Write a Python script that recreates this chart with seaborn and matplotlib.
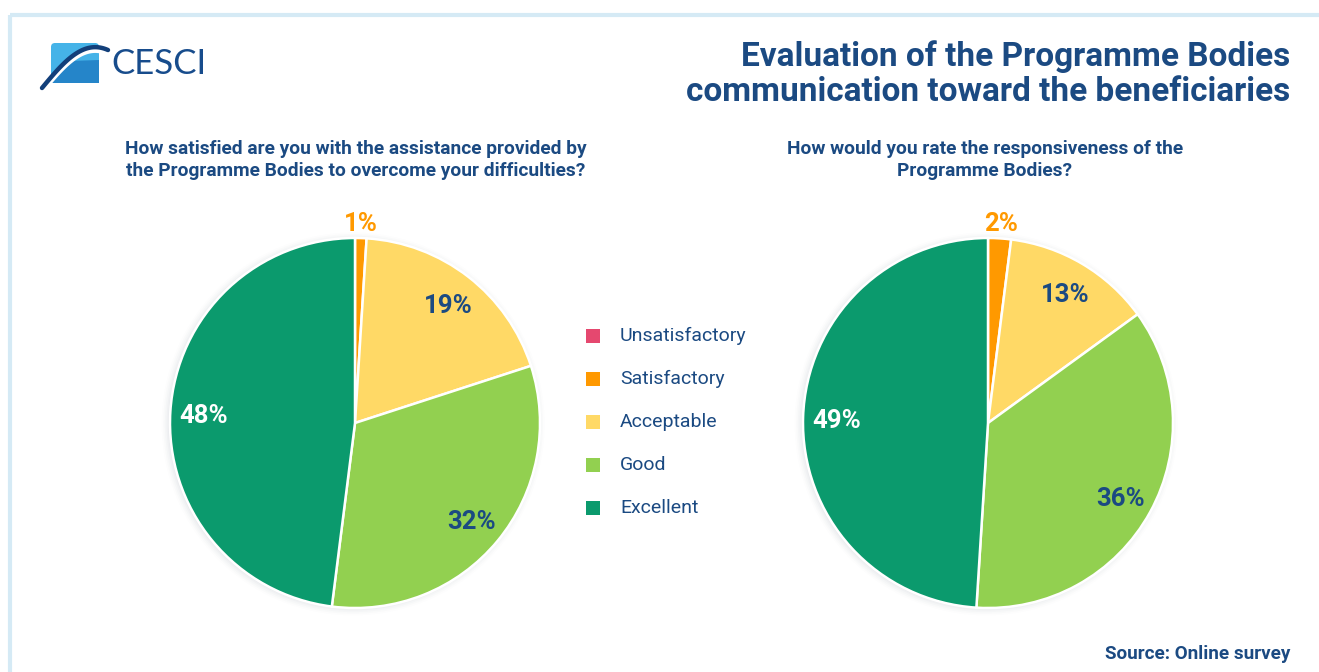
import numpy as np
import matplotlib
matplotlib.use("Agg")
import matplotlib.pyplot as plt
from matplotlib.patches import FancyBboxPatch, Rectangle, Polygon, Circle
import seaborn as sns

# Survey answers, in legend order
categories = ["Unsatisfactory", "Satisfactory", "Acceptable", "Good", "Excellent"]
assistance_pct = [0, 1, 19, 32, 48]
responsiveness_pct = [0, 2, 13, 36, 49]

question_left = "How satisfied are you with the assistance provided by\nthe Programme Bodies to overcome your difficulties?"
question_right = "How would you rate the responsiveness of the\nProgramme Bodies?"
title_text = "Evaluation of the Programme Bodies\ncommunication toward the beneficiaries"
source_text = "Source: Online survey"

sns.set_theme(style="white")
plt.rcParams["font.family"] = ["Roboto", "DejaVu Sans"]

palette = sns.color_palette(["#E5486F", "#FF9900", "#FFD966", "#92D050", "#0B9A6D"])
label_colors = {"Satisfactory": "#FF9900", "Acceptable": "#1B4A82",
                "Good": "#1B4A82", "Excellent": "white"}
NAVY = "#1B4A82"

W, H = 1319, 672
fig = plt.figure(figsize=(W / 100, H / 100), dpi=100)
fig.patch.set_facecolor("white")

# full-figure canvas in pixel units for frame and logo
bg = fig.add_axes([0, 0, 1, 1])
bg.set_xlim(0, W)
bg.set_ylim(H, 0)
bg.axis("off")
bg.plot([10, W], [15, 15], color="#D5EAF5", lw=3, solid_capstyle="butt")
bg.plot([10, 10], [15, H], color="#D5EAF5", lw=3, solid_capstyle="butt")

# logo mark
bg.add_patch(FancyBboxPatch((51, 43), 48, 40, boxstyle="round,pad=0,rounding_size=4",
                            fc="#45B3E8", ec="none"))
bg.add_patch(Polygon([(51, 74), (70, 61), (99, 60), (99, 83), (51, 83)],
                     closed=True, fc="#2585C9", ec="none"))
t = np.linspace(0, 1, 60)
arc_x = 42 + 66 * t
arc_y = 88 - 38 * np.sin(t * np.pi * 0.62) / np.sin(np.pi * 0.62 * 0.999)
bg.plot(arc_x, arc_y + 3, color="white", lw=4, solid_capstyle="round")
bg.plot(arc_x, arc_y, color="#123F7A", lw=3.2, solid_capstyle="round")
bg.text(111, 64, "CESCI", fontsize=25, color="#174C8C", family=["Lato", "DejaVu Sans"],
        va="center", ha="left")

fig.text(1290 / W, 1 - 40 / H, title_text, ha="right", va="top", fontsize=24,
         fontweight="bold", color=NAVY, linespacing=1.14)
fig.text(356 / W, 1 - 140 / H, question_left, ha="center", va="top", fontsize=13.8,
         fontweight="bold", color=NAVY, linespacing=1.32)
fig.text(985 / W, 1 - 140 / H, question_right, ha="center", va="top", fontsize=13.8,
         fontweight="bold", color=NAVY, linespacing=1.32)
fig.text(1290 / W, 1 - 654 / H, source_text, ha="right", va="center", fontsize=13.6,
         fontweight="bold", color=NAVY)

LIM = 1.3


def draw_pie(cx, cy, r, values):
    R = r * LIM
    ax = fig.add_axes([(cx - R) / W, 1 - (cy + R) / H, 2 * R / W, 2 * R / H])
    ax.set_xlim(-LIM, LIM)
    ax.set_ylim(-LIM, LIM)
    ax.set_aspect("equal")
    ax.axis("off")
    # soft shadow around the disc
    for k, a in zip(np.linspace(1.035, 1.0, 5), [0.02, 0.03, 0.04, 0.05, 0.06]):
        ax.add_patch(Circle((-0.01, -0.005), k, fc="#9AA4AE", ec="none", alpha=a))
    idx = [i for i, v in enumerate(values) if v > 0]
    vals = [values[i] for i in idx]
    cols = [palette[i] for i in idx]
    ax.pie(vals, colors=cols, startangle=90, counterclock=False, radius=1,
           wedgeprops=dict(edgecolor="white", linewidth=1.8))
    ax.set_xlim(-LIM, LIM)
    ax.set_ylim(-LIM, LIM)
    total = sum(vals)
    cum = 0
    for i, v in zip(idx, vals):
        mid = (cum + v / 2) / total * 2 * np.pi
        cum += v
        name = categories[i]
        d = 1.09 if v < 5 else 0.82
        x, y = d * np.sin(mid), d * np.cos(mid)
        ax.text(x, y, f"{v}%", ha="center", va="center_baseline", fontsize=18.5,
                fontweight="bold", color=label_colors[name])
    return ax


draw_pie(355, 423, 185, assistance_pct)
draw_pie(988, 423, 185, responsiveness_pct)

# legend
for k, (name, col) in enumerate(zip(categories, palette)):
    y = 336 + k * 43
    bg.add_patch(Rectangle((586, y - 7), 14, 14, fc=col, ec="none"))
    bg.text(620, y, name, fontsize=14, color=NAVY, va="center", ha="left")

fig.savefig("out.png", dpi=100, facecolor="white")
